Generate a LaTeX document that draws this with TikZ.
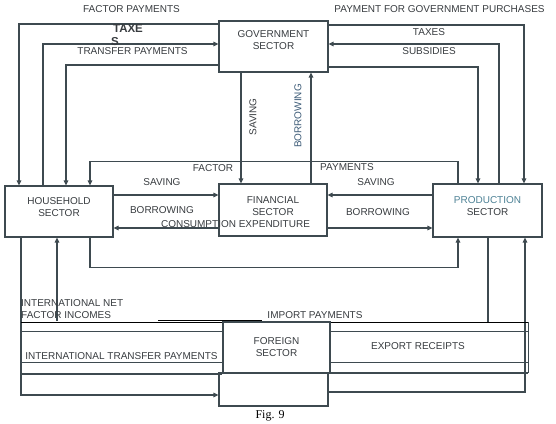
\documentclass[tikz,border=0pt]{standalone}
\usepackage{fontspec}
\setmainfont{Liberation Sans}
\newfontfamily\figfont{Liberation Serif}
\usetikzlibrary{arrows.meta}
\definecolor{ln}{HTML}{3E4A50}
\definecolor{tx}{HTML}{383C40}
\definecolor{tealtx}{HTML}{4E8296}
\definecolor{blutx}{HTML}{3E5C78}
\begin{document}
\begin{tikzpicture}[x=1pt,y=-1pt,
  sectorbox/.style={draw=ln,line width=1.2pt,fill=white,inner sep=0},
  lab/.style={text=tx,font=\fontsize{10}{12}\selectfont,inner sep=0,align=center},
  flow/.style={draw=ln,line width=1.2pt},
  arr/.style={flow,-{Triangle[length=5pt,width=4.5pt]}},
  band/.style={draw=ln,line width=0.9pt},
  bandtop/.style={draw=black,line width=0.7pt},
  bandbot/.style={draw=ln,line width=1.5pt},
]
\useasboundingbox (0,0) rectangle (556,423);

% sector boxes
\node[sectorbox,minimum width=109pt,minimum height=51pt] (gov) at (273.5,46.5) {};
\node[sectorbox,minimum width=108pt,minimum height=51pt] (hh) at (59,211.5) {};
\node[sectorbox,minimum width=108pt,minimum height=52pt] (fin) at (273,210) {};
\node[sectorbox,minimum width=109pt,minimum height=53pt] (prod) at (487.5,210.5) {};
\node[sectorbox,minimum width=109pt,minimum height=33pt] (low) at (273.5,389.5) {};
\node[sectorbox,minimum width=107pt,minimum height=51pt] (for) at (276.5,347.5) {};

% sector texts
\node[lab] (govtxt) at (273.5,40) {GOVERNMENT\\SECTOR};
\node[lab] (hhtxt) at (59,207.5) {HOUSEHOLD\\SECTOR};
\node[lab] (fintxt) at (273,206) {FINANCIAL\\SECTOR};
\node[lab] (prodtxt) at (487.5,206) {\textcolor{tealtx}{PRODUCTION}\\SECTOR};
\node[lab] (fortxt) at (276.5,347) {FOREIGN\\SECTOR};

% government <-> household
\draw[arr] (gov.west |- 0,24) -| (hh.north -| 19,0);
\draw[arr] (hh.north -| 43,0) |- (gov.west |- 0,44);
\draw[arr] (gov.west |- 0,65) -| (hh.north -| 66,0);
% government <-> production
\draw[arr] (gov.east |- 0,25) -| (prod.north -| 524,0);
\draw[arr] (prod.north -| 499,0) |- (gov.east |- 0,44);
\draw[arr] (gov.east |- 0,67) -| (prod.north -| 478,0);
% government <-> financial
\draw[arr] (gov.south -| 241,0) -- (fin.north -| 241,0);
\draw[arr] (fin.north -| 311,0) -- (gov.south -| 311,0);
% factor payments loop
\draw[arr] (prod.north -| 458,0) -- ++(0,-22) -| (hh.north -| 90,0);
% household / production <-> financial
\draw[arr] (hh.east |- 0,195) -- (fin.west |- 0,195);
\draw[arr] (fin.west |- 0,228) -- (hh.east |- 0,228);
\draw[arr] (prod.west |- 0,195) -- (fin.east |- 0,195);
\draw[arr] (fin.east |- 0,228) -- (prod.west |- 0,228);
% consumption loop
\draw[arr] (hh.south -| 90,0) -- ++(0,30) -| (prod.south -| 458,0);

% foreign links
\coordinate (nfi) at (57,321);
\coordinate (imp) at (488,322);
\draw[arr] (nfi) -- (hh.south -| 57,0);
\draw[arr] (hh.south -| 21,0) |- (low.west |- 0,395);
\draw[flow] (prod.south -| 488,0) -- (imp);
\draw[arr] (low.east |- 0,392) -| (prod.south -| 525,0);

% bands
\draw[bandtop] (21,322) -- (for.west |- 0,322);
\draw[bandtop] (158,320.5) -- (262,320.5);
\draw[band] (21,331) -- (for.west |- 0,331);
\draw[band] (21,362) -- (for.west |- 0,362);
\draw[bandbot] (21,374) -- (for.west |- 0,374);
\draw[bandtop] (for.east |- 0,322) -- (528,322);
\draw[band] (for.east |- 0,331) -- (528,331);
\draw[band] (for.east |- 0,362) -- (528,362);
\draw[bandbot] (for.east |- 0,373) -- (528,373);
\draw[band] (528,322) -- (528,373);

% labels
\node[lab] (l1) at (131.5,9) {FACTOR PAYMENTS};
\node[lab,font=\bfseries\fontsize{11.5}{12}\selectfont] (l2) at (128,29) {TAXE};
\node[lab,font=\bfseries\fontsize{11.5}{12}\selectfont] (l3) at (115,42) {S};
\node[lab] (l4) at (132.5,51) {TRANSFER PAYMENTS};
\node[lab] (l5) at (439.5,9) {PAYMENT FOR GOVERNMENT PURCHASES};
\node[lab] (l6) at (429,32) {TAXES};
\node[lab] (l7) at (429,51) {SUBSIDIES};
\node[lab,rotate=90] (l8) at (253,117) {SAVING};
\node[lab,rotate=90,text=blutx] (l9) at (298,116) {BORROWING};
\node[lab] (l10) at (213,168) {FACTOR};
\node[lab] (l11) at (347,167) {PAYMENTS};
\node[lab] (l12) at (162,182) {SAVING};
\node[lab] (l13) at (162,210) {BORROWING};
\node[lab] (l14) at (376,182) {SAVING};
\node[lab] (l15) at (378,212) {BORROWING};
\node[lab] (l16) at (235.5,224) {CONSUMPTION EXPENDITURE};
\node[lab,align=left,anchor=west] (l17) at (21,309) {INTERNATIONAL NET\\FACTOR INCOMES};
\node[lab] (l18) at (315,315) {IMPORT PAYMENTS};
\node[lab] (l19) at (121.5,356) {INTERNATIONAL TRANSFER PAYMENTS};
\node[lab] (l20) at (418,346) {EXPORT RECEIPTS};
\node[inner sep=0,anchor=base,font=\figfont\fontsize{12}{14}\selectfont] (fig) at (270,418) {Fig. 9};
\end{tikzpicture}
\end{document}
